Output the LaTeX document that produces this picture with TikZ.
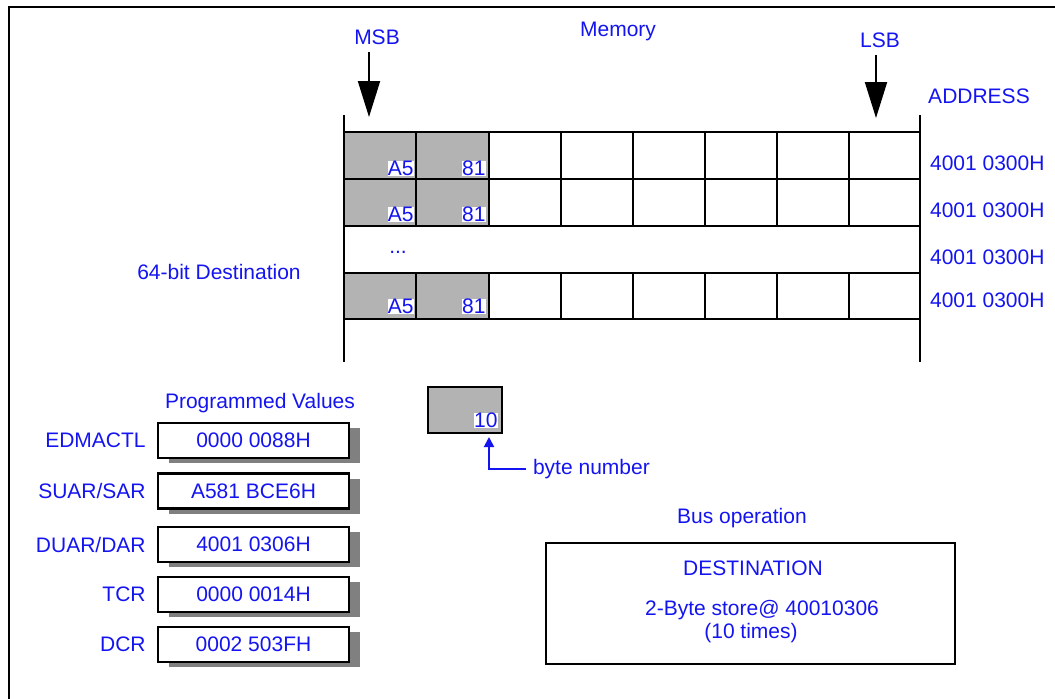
\documentclass[tikz,border=0pt]{standalone}
\usepackage{fontspec}
\setmainfont{Liberation Sans}
\usepackage{xcolor}
\usetikzlibrary{arrows.meta,positioning,shadows}

\definecolor{memgray}{RGB}{179,179,179}
\definecolor{shadowgray}{RGB}{128,128,128}
\definecolor{txtblue}{RGB}{20,20,240}

\begin{document}
\begin{tikzpicture}[
  x=0.5pt,
  y=-0.5pt,
  every node/.style={font=\fontsize{10.5}{12}\selectfont, text=txtblue},
  gridline/.style={line width=1.35pt},
  bytetext/.style={anchor=south east, fill=white, inner sep=0pt},
  valbox/.style={draw=black, fill=white, line width=1.3pt, minimum width=95.5pt, minimum height=17.5pt,
    drop shadow={shadow xshift=5.5pt, shadow yshift=-2.5pt, fill=shadowgray, opacity=1}},
  bigarrow/.style={line width=1pt, -{Triangle[length=18pt, width=11pt]}},
]
\useasboundingbox (0,0) rectangle (1055,698);

% Frame.
\draw[line width=1.2pt] (9,710) -- (9,7) -- (1065,7);

% Titles.
\node (memtitle) at (618,31) {Memory};
\node (msb) at (377,37) {MSB};
\node (lsb) at (880,40) {LSB};
\node (addrhead) at (979,96) {ADDRESS};
\coordinate (msbtip) at (369,117);
\coordinate (lsbtip) at (876,118);
\draw[bigarrow] (msbtip |- msb.south) -- (msbtip);
\draw[bigarrow] (lsbtip |- lsb.south) -- (lsbtip);

% Gray cells.
\foreach \yt/\yb in {132/179, 179/226, 273/319} {
  \fill[memgray] (344,\yt) rectangle (489,\yb);
}

% Memory grid.
\foreach \yy in {132,179,226,273,319} \draw[gridline] (344,\yy) -- (920,\yy);
\foreach \xx in {416,489,561,633,705,777,849} {
  \draw[gridline] (\xx,132) -- (\xx,226);
  \draw[gridline] (\xx,273) -- (\xx,319);
}
\draw[gridline] (344,115) -- (344,362);
\draw[gridline] (920,115) -- (920,362);

% Byte values.
\foreach \yb/\i in {176/1, 222/2, 314/4} {
  \node[bytetext] (msbyte\i) at (414,\yb) {A5};
  \node[bytetext] (lsbyte\i) at (486,\yb) {81};
}
\node (dots) at (398,252) {...};

% Addresses.
\foreach \yy/\i in {163/1, 210/2, 257/3, 300/4} {
  \node[anchor=west] (addr\i) at (923,\yy) {4001 0300H};
}
\node (destlab) at (219,272) {64-bit Destination};

% Programmed values.
\node (progtitle) at (260,403) {Programmed Values};
\node[valbox] (vedmactl) at (253.5,440.5) {0000 0088H};
\node[left=2pt of vedmactl] (edmactl) {EDMACTL};
\node[valbox] (vsar) at (253.5,491) {A581 BCE6H};
\node[left=2pt of vsar] (sar) {SUAR/SAR};
\node[valbox] (vdar) at (253.5,544.5) {4001 0306H};
\node[left=2pt of vdar] (dar) {DUAR/DAR};
\node[valbox] (vtcr) at (253.5,594.5) {0000 0014H};
\node[left=2pt of vtcr] (tcr) {TCR};
\node[valbox] (vdcr) at (253.5,644.5) {0002 503FH};
\node[left=2pt of vdcr] (dcr) {DCR};

% Byte number.
\node[draw=black, line width=1.3pt, fill=memgray, minimum width=37pt, minimum height=23pt] (bytebox) at (465,410) {};
\node[bytetext] (bytenum) at (498,428) {10};
\node[anchor=west] (bytelab) at (526,469) {byte number};
\coordinate (bytetip) at (489,437);
\draw[txtblue, line width=1pt, -{Triangle[length=5pt, width=5pt]}] (bytelab.west) -| (bytetip);

% Bus operation.
\node (busop) at (742,518) {Bus operation};
\node[draw=black, line width=1.3pt, minimum width=204.5pt, minimum height=60.5pt] (busbox) at (750.5,603.5) {};
\node (desthead) at (753,568) {DESTINATION};
\node (store) at (762,610) {2-Byte store@ 40010306};
\node (times) at (751,633) {(10 times)};

\end{tikzpicture}
\end{document}
